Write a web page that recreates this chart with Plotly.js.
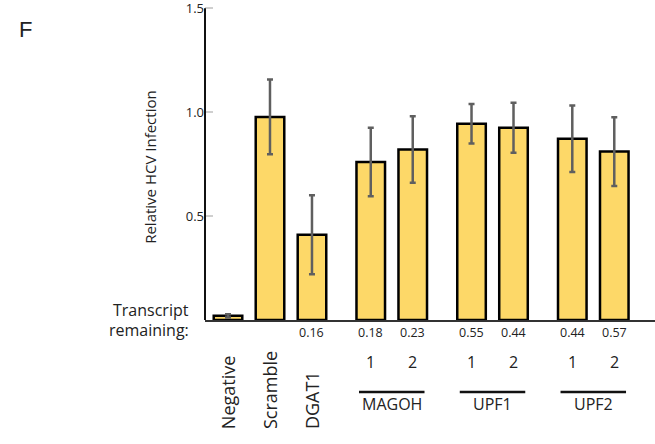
<!DOCTYPE html>
<html>
<head>
<meta charset="utf-8">
<script src="https://cdn.plot.ly/plotly-3.0.1.min.js"></script>
<style>html,body{margin:0;padding:0;background:#fff}#chart{width:655px;height:444px}</style>
</head>
<body>
<div id="chart"></div>
<script>
// ---- data ----
const singles = ["Negative", "Scramble", "DGAT1"];
const groups = ["MAGOH", "UPF1", "UPF2"];
const subLabels = ["1", "2"];
const values = [0.02, 0.977, 0.41, 0.76, 0.82, 0.944, 0.925, 0.872, 0.81];
const errors = [0.008, 0.18, 0.19, 0.165, 0.16, 0.095, 0.12, 0.16, 0.165];
const transcript = ["", "", "0.16", "0.18", "0.23", "0.55", "0.44", "0.44", "0.57"];
const yTicks = [0.5, 1.0, 1.5];
const yTickText = ["0.5", "1.0", "1.5"];

// ---- positions (layout) ----
const groupGap = 1.4;
const xs = [];
singles.forEach((s, i) => xs.push(i));
let cur = singles.length - 1;
const groupCenters = [];
groups.forEach(g => {
  const a = cur + groupGap, b = a + 1;
  xs.push(a, b);
  groupCenters.push((a + b) / 2);
  cur = b;
});

const yMax = 1.52;
const plotH = 311.5 * yMax / 1.5;
const topM = 444 - 124 - plotH;
const py = p => (320 - p) / plotH; // pixel row -> paper y
const font = "Open Sans, Noto Sans, sans-serif";
const annotations = [];
const shapes = [];

annotations.push({xref: "paper", yref: "paper", x: (17 - 205) / 450, y: py(15), text: "F", showarrow: false,
  font: {family: "Liberation Sans, Arial, sans-serif", size: 22, color: "#222"}});
annotations.push({xref: "paper", yref: "paper", x: (138 - 205) / 450, y: py(167), text: "Relative HCV Infection",
  textangle: -90, showarrow: false, font: {family: font, size: 15, color: "#222"}});
annotations.push({xref: "paper", yref: "paper", x: (191 - 205) / 450, y: py(323), xanchor: "right", text: "Transcript",
  showarrow: false, font: {family: font, size: 16, color: "#222"}});
annotations.push({xref: "paper", yref: "paper", x: (191 - 205) / 450, y: py(343), xanchor: "right", text: "remaining:",
  showarrow: false, font: {family: font, size: 16, color: "#222"}});

transcript.forEach((t, i) => {
  if (t) annotations.push({xref: "x", yref: "paper", x: xs[i], y: py(343), text: t, showarrow: false,
    font: {family: font, size: 12.5, color: "#222"}});
});
singles.forEach((s, i) => {
  annotations.push({xref: "x", yref: "paper", x: xs[i], y: py(431), yanchor: "bottom", text: s, textangle: -90,
    showarrow: false, font: {family: font, size: 18, color: "#222"}});
});
groups.forEach((g, gi) => {
  const a = xs[singles.length + gi * 2], b = xs[singles.length + gi * 2 + 1];
  subLabels.forEach((l, k) => annotations.push({xref: "x", yref: "paper", x: k ? b : a, y: py(375), text: l,
    showarrow: false, font: {family: font, size: 16, color: "#222"}}));
  annotations.push({xref: "x", yref: "paper", x: groupCenters[gi], y: py(417), text: g, showarrow: false,
    font: {family: font, size: 16, color: "#222"}});
  shapes.push({type: "line", xref: "x", yref: "paper", x0: groupCenters[gi] - 0.78, x1: groupCenters[gi] + 0.78,
    y0: py(392), y1: py(392), line: {color: "#111", width: 2.5}});
});
// axis line only up to 1.5
shapes.push({type: "line", xref: "paper", yref: "y", x0: 0, x1: 0, y0: 0, y1: 1.5, line: {color: "#111", width: 2}});

const trace = {
  type: "bar", x: xs, y: values, width: 0.68,
  marker: {color: "#FDD868", line: {color: "#000", width: 2.5}},
  error_y: {type: "data", array: errors, visible: true, color: "#5f5f5f", thickness: 2.5, width: 3},
  hoverinfo: "skip"
};

const layout = {
  width: 655, height: 444,
  margin: {l: 205, r: 0, t: topM, b: 124, pad: 0},
  paper_bgcolor: "#fff", plot_bgcolor: "#fff",
  showlegend: false,
  xaxis: {range: [-0.548, 10.17], showline: true, linecolor: "#333", linewidth: 2, showticklabels: false,
    ticks: "", showgrid: false, zeroline: false, fixedrange: true},
  yaxis: {range: [0, yMax], tickmode: "array", tickvals: yTicks, ticktext: yTickText, ticks: "inside", ticklen: 8, tickwidth: 2,
    tickcolor: "#cfcfcf", showline: false, showgrid: false, zeroline: false, ticklabeloverflow: "allow",
    tickfont: {family: font, size: 13, color: "#222"}, fixedrange: true},
  annotations: annotations,
  shapes: shapes
};

Plotly.newPlot("chart", [trace], layout, {staticPlot: true, displayModeBar: false});
</script>
</body>
</html>
